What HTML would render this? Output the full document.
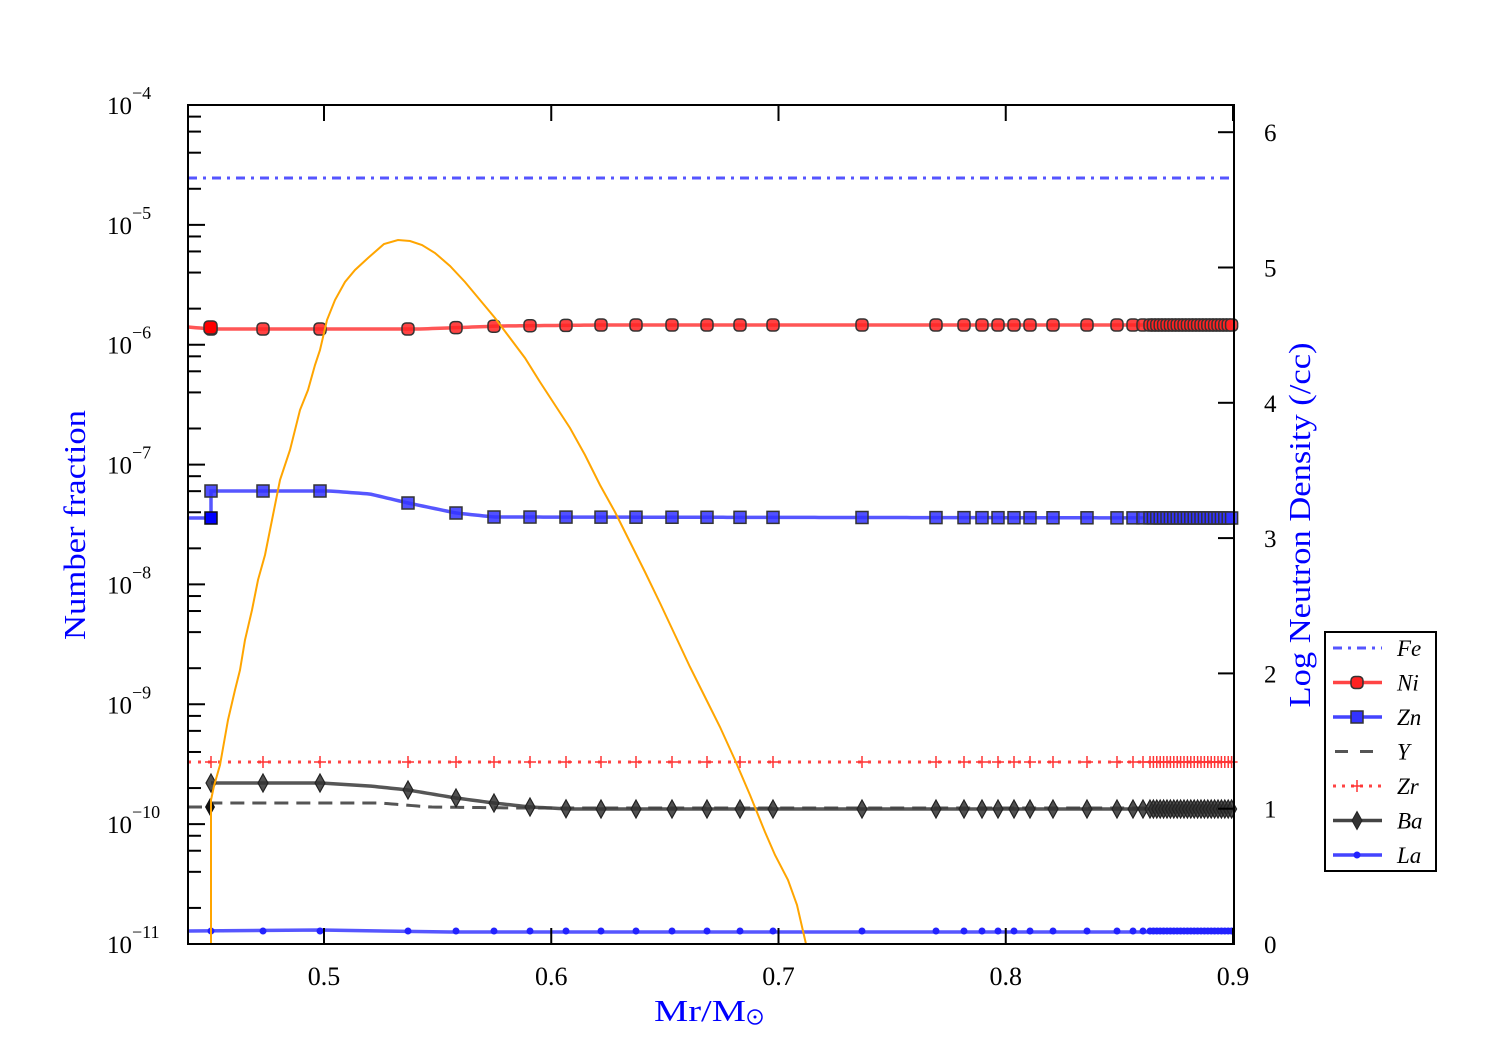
<!DOCTYPE html><html><head><style>body{margin:0;background:#fff}svg text{font-family:"Liberation Serif",serif}</style></head><body>
<svg id="s" width="1500" height="1050" xmlns="http://www.w3.org/2000/svg"></svg>
<script>
const s=document.getElementById('s');let h='';
const X0=188,X1=1234,Y0=105,Y1=944,D=119.857;
const yl=v=>Y1-(Math.log10(v)+11)*D;
const xs=[211,263,320,408,456,494,530,566,601,636,672,707,740,773,862,936,964,982,998,1014,1030,1053,1087,1117,1133,1143];
for(let x=1150;x<=1232;x+=3.4)xs.push(x);
function interp(pts,x){for(let i=0;i<pts.length-1;i++){if(x<=pts[i+1][0]){const[a,b]=pts[i],[c,d]=pts[i+1];return b+(d-b)*(x-a)/(c-a);}}return pts[pts.length-1][1];}
const ni=[[188,327],[211,329],[420,329],[500,326],[600,325],[1234,325]];
const zn=[[211,491],[330,491],[370,494],[408,503],[456,513],[494,517],[1234,518]];
const ba=[[211,783],[320,783],[370,786],[408,790],[456,798],[494,803],[530,807],[570,809],[1234,809]];
const yy=[[188,807],[211,807],[212,803],[380,803],[430,807],[520,808],[1234,808]];
function path(pts){return 'M'+pts.map(p=>p[0]+','+p[1]).join('L');}
function smooth(pts){let a=[];for(let x=pts[0][0];x<=1234;x+=4)a.push([x,interp(pts,x)]);return path(a);}
h+=`<line x1="188" x2="1234" y1="178" y2="178" stroke="#5555ff" stroke-width="3" stroke-dasharray="9,6,3,6"/>`;
h+=`<path d="${smooth(yy)}" fill="none" stroke="#555" stroke-width="3" stroke-dasharray="14,8"/>`;
h+=`<line x1="188" x2="1234" y1="762" y2="762" stroke="#ff4444" stroke-width="3" stroke-dasharray="3,7"/>`;
h+=`<path d="M188,931L320,930L450,932L1234,932" fill="none" stroke="#4444ff" stroke-width="3.5" opacity=".9"/>`;
h+=`<path d="${smooth(ba)}" fill="none" stroke="#444" stroke-width="3.5" opacity=".9"/>`;
h+=`<path d="M188,518L211,518L211,491${smooth(zn).replace('M','L')}" fill="none" stroke="#4444ff" stroke-width="3.5" opacity=".9"/>`;
h+=`<path d="${smooth(ni)}" fill="none" stroke="#ff4444" stroke-width="3.5" opacity=".9"/>`;
for(const x of xs){
 h+=`<path d="M${x-6},762h12M${x},756v12" stroke="#ff3333" stroke-width="1.5"/>`;
 const b=interp(ba,x);h+=`<path d="M${x},${b-9}L${x+5},${b}L${x},${b+9}L${x-5},${b}Z" fill="#333" fill-opacity=".85" stroke="#222" stroke-width="1.2"/>`;
 h+=`<circle cx="${x}" cy="931" r="3.5" fill="#2222ff"/>`;
 const z=interp(zn,x);h+=`<rect x="${x-6}" y="${z-6}" width="12" height="12" fill="#3333ff" fill-opacity=".85" stroke="#333" stroke-width="1.5"/>`;
 const n=interp(ni,x);h+=`<rect x="${x-6}" y="${n-6}" width="12" height="12" rx="4" fill="#ff2222" fill-opacity=".85" stroke="#333" stroke-width="1.5"/>`;
}
h+=`<rect x="205" y="512" width="12" height="12" fill="#0000ff" stroke="#111" stroke-width="1.5"/>`;
h+=`<path d="M205,807L210,798L215,807L210,816Z" fill="#111"/>`;
h+=`<rect x="204" y="321" width="13" height="13" rx="4" fill="#ff0000" stroke="#333" stroke-width="1.5"/>`;
const or=[[211,944],[211,800],[214,786],[220,765],[228,720],[235,690],[240,670],[245,640],[252,610],[258,580],[265,555],[272,520],[280,480],[290,450],[300,410],[308,390],[315,365],[320,350],[327,320],[335,300],[345,282],[355,270],[368,258],[384,244],[398,240],[410,241],[422,245],[435,253],[450,266],[465,282],[480,300],[495,318],[510,338],[525,358],[540,382],[555,405],[570,428],[585,455],[600,485],[615,512],[630,542],[645,572],[660,603],[675,635],[690,667],[705,697],[720,727],[735,760],[750,795],[765,832],[775,855],[788,880],[797,905],[806,944]];
h+=`<path d="${path(or)}" fill="none" stroke="#ffa500" stroke-width="2"/>`;
h+=`<rect x="188" y="105" width="1046" height="839" fill="none" stroke="#000" stroke-width="2"/>`;
for(let d=-11;d<=-4;d++){const y=yl(Math.pow(10,d));h+=`<path d="M188,${y}h17" stroke="#000" stroke-width="2"/>`;
 h+=`<text x="132" y="${y+9}" font-size="25" text-anchor="end">10</text><text x="132" y="${y-6}" font-size="18">−${-d}</text>`;
 if(d<-4)for(const m of [2,4,6,8]){const yy2=yl(m*Math.pow(10,d));h+=`<path d="M188,${yy2}h13" stroke="#000" stroke-width="2"/>`;}}
for(let i=0;i<=4;i++){const x=324+i*227.25;h+=`<path d="M${x},944v-16M${x},105v16" stroke="#000" stroke-width="2"/><text x="${x}" y="985" font-size="26" text-anchor="middle">${(0.5+i/10).toFixed(1)}</text>`;}
for(let i=0;i<=6;i++){const y=944-i*135.3;h+=`<path d="M1234,${y}h-16" stroke="#000" stroke-width="2"/><text x="1264" y="${y+9}" font-size="25">${i}</text>`;}
h+=`<text transform="translate(85,525) rotate(-90)" font-size="31" fill="#0000ff" text-anchor="middle" textLength="230" lengthAdjust="spacingAndGlyphs">Number fraction</text>`;
h+=`<text transform="translate(1310,525) rotate(-90)" font-size="31" fill="#0000ff" text-anchor="middle" textLength="365" lengthAdjust="spacingAndGlyphs">Log Neutron Density (/cc)</text>`;
h+=`<text x="654" y="1021" font-size="31" fill="#0000ff" textLength="92" lengthAdjust="spacingAndGlyphs">Mr/M</text><circle cx="755" cy="1017" r="7" fill="none" stroke="#0000ff" stroke-width="1.5"/><circle cx="755" cy="1017" r="1.5" fill="#0000ff"/>`;
h+=`<rect x="1325" y="632" width="111" height="239" fill="#fff" stroke="#000" stroke-width="2"/>`;
const L=['Fe','Ni','Zn','Y','Zr','Ba','La'];
L.forEach((t,i)=>{const y=648+i*34.5,a=1333,b=1382,m=1357;
 if(i==0)h+=`<line x1="${a}" x2="${b}" y1="${y}" y2="${y}" stroke="#5555ff" stroke-width="3" stroke-dasharray="9,6,3,6"/>`;
 if(i==1)h+=`<line x1="${a}" x2="${b}" y1="${y}" y2="${y}" stroke="#ff4444" stroke-width="3.5"/><rect x="${m-6}" y="${y-6}" width="12" height="12" rx="4" fill="#ff2222" stroke="#333" stroke-width="1.5"/>`;
 if(i==2)h+=`<line x1="${a}" x2="${b}" y1="${y}" y2="${y}" stroke="#4444ff" stroke-width="3.5"/><rect x="${m-6}" y="${y-6}" width="12" height="12" fill="#3333ff" stroke="#333" stroke-width="1.5"/>`;
 if(i==3)h+=`<line x1="${a+2}" x2="${b}" y1="${y}" y2="${y}" stroke="#555" stroke-width="3" stroke-dasharray="13,12"/>`;
 if(i==4)h+=`<line x1="${a}" x2="${b}" y1="${y}" y2="${y}" stroke="#ff4444" stroke-width="3" stroke-dasharray="3,6"/><path d="M${m-6},${y}h12M${m},${y-6}v12" stroke="#ff3333" stroke-width="1.5"/>`;
 if(i==5)h+=`<line x1="${a}" x2="${b}" y1="${y}" y2="${y}" stroke="#444" stroke-width="3.5"/><path d="M${m},${y-9}L${m+5},${y}L${m},${y+9}L${m-5},${y}Z" fill="#333" stroke="#222"/>`;
 if(i==6)h+=`<line x1="${a}" x2="${b}" y1="${y}" y2="${y}" stroke="#4444ff" stroke-width="3.5"/><circle cx="${m}" cy="${y}" r="3.5" fill="#2222ff"/>`;
 h+=`<text x="1397" y="${y+8}" font-size="23" font-style="italic">${t}</text>`;});
s.innerHTML=h;
</script></body></html>
